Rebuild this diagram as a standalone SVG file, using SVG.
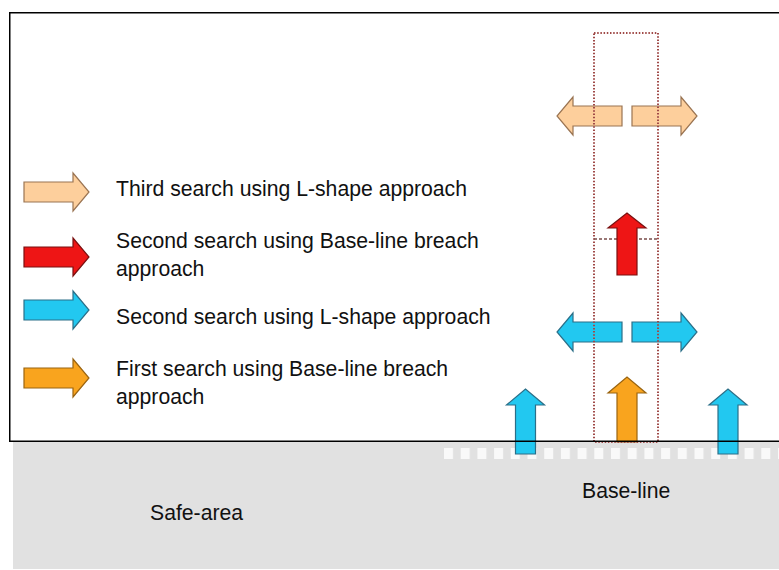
<svg xmlns="http://www.w3.org/2000/svg" xmlns:xlink="http://www.w3.org/1999/xlink" width="779" height="570" viewBox="0 0 779 570">
  <style>
    text { font-family: "Liberation Sans", Arial, sans-serif; font-size: 21.2px; fill: #111; }
    .tan { fill: #fdcf9c; stroke: #9a7452; stroke-width: 1.2; }
    .red { fill: #ee1515; stroke: #7a1010; stroke-width: 1.2; }
    .cyan { fill: #22c8f0; stroke: #2b6f88; stroke-width: 1.2; }
    .orange { fill: #f9a41e; stroke: #9a6410; stroke-width: 1.2; }
    .dots { fill: none; stroke: #a04a48; stroke-width: 2; stroke-dasharray: 1.5 1.7; }
    .dash { fill: none; stroke: #7a4c4a; stroke-width: 1.5; stroke-dasharray: 3 2; }
  </style>
  <defs>
    <!-- block arrow pointing right, tip at the origin -->
    <path id="arrow" d="M-65,-10 H-16 V-19 L0,0 L-16,19 V10 H-65 Z"/>
    <!-- shorter variant for the breach step -->
    <path id="arrow-short" d="M-62,-10 H-15 V-19 L0,0 L-15,19 V10 H-62 Z"/>
    <pattern id="squares" x="444" y="448" width="16.7" height="12" patternUnits="userSpaceOnUse">
      <rect width="9" height="11" fill="#ffffff" fill-opacity="0.8"/>
    </pattern>
  </defs>

  <rect width="779" height="570" fill="#ffffff"/>

  <!-- safe area below the base-line -->
  <g id="safe-area">
    <rect x="13" y="442" width="766" height="127" fill="#e1e1e1"/>
    <rect x="444" y="448" width="335" height="11" fill="url(#squares)"/>
    <text x="150" y="520">Safe-area</text>
    <text x="582" y="498">Base-line</text>
  </g>

  <!-- legend -->
  <g id="legend-third-lshape">
    <use xlink:href="#arrow" class="tan" transform="translate(89,192)"/>
    <text x="116" y="196">Third search using L-shape approach</text>
  </g>
  <g id="legend-second-breach">
    <use xlink:href="#arrow" class="red" transform="translate(89,257)"/>
    <text x="116" y="248">Second search using Base-line breach</text>
    <text x="116" y="276">approach</text>
  </g>
  <g id="legend-second-lshape">
    <use xlink:href="#arrow" class="cyan" transform="translate(89,310)"/>
    <text x="116" y="324">Second search using L-shape approach</text>
  </g>
  <g id="legend-first-breach">
    <use xlink:href="#arrow" class="orange" transform="translate(89,378)"/>
    <text x="116" y="376">First search using Base-line breach</text>
    <text x="116" y="404">approach</text>
  </g>

  <!-- search moves -->
  <g id="connectors">
    <use id="third-left" xlink:href="#arrow" class="tan" transform="translate(557,116) rotate(180)"/>
    <use id="third-right" xlink:href="#arrow" class="tan" transform="translate(697,116)"/>
    <use id="second-left" xlink:href="#arrow" class="cyan" transform="translate(557,332) rotate(180)"/>
    <use id="second-right" xlink:href="#arrow" class="cyan" transform="translate(697,332)"/>
    <use id="first-up" xlink:href="#arrow" class="orange" transform="translate(627,377) rotate(-90)"/>
    <use id="side-up-left" xlink:href="#arrow" class="cyan" transform="translate(525.5,389) rotate(-90)"/>
    <use id="side-up-right" xlink:href="#arrow" class="cyan" transform="translate(728,389) rotate(-90)"/>
  </g>

  <!-- breach corridor -->
  <g id="corridor">
    <rect class="dots" x="594" y="33" width="64" height="409"/>
    <line class="dash" x1="594" y1="239" x2="658" y2="239"/>
  </g>

  <g id="breach-second">
    <use xlink:href="#arrow-short" class="red" transform="translate(627,213) rotate(-90)"/>
  </g>

  <!-- search field frame -->
  <rect id="field" x="9.75" y="12.75" width="800" height="428.5" fill="none" stroke="#000" stroke-width="1.5"/>
</svg>
